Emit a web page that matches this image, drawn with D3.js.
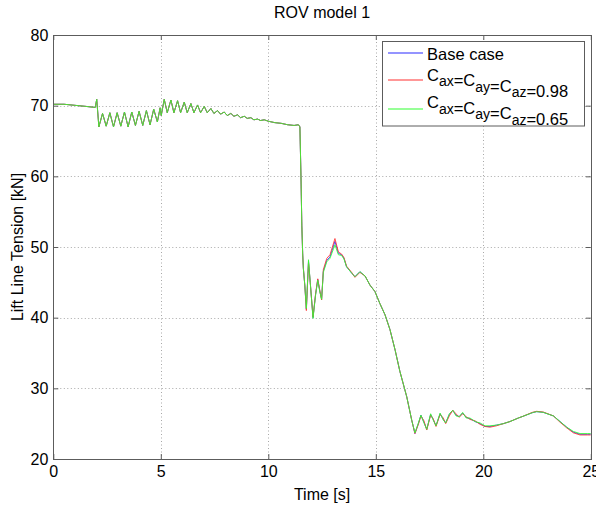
<!DOCTYPE html>
<html>
<head>
<meta charset="utf-8">
<script src="https://cdn.jsdelivr.net/npm/d3@7/dist/d3.min.js"></script>
<style>
  html, body { margin: 0; padding: 0; background: #fff; }
  svg text { font-family: "Liberation Sans", Arial, Helvetica, sans-serif; fill: #000; }
</style>
</head>
<body>
<svg id="chart" width="596" height="510"></svg>
<script>
// Lift line tension over time for ROV model 1, three added-mass cases.

const xTicks = [0, 5, 10, 15, 20, 25];
const yTicks = [20, 30, 40, 50, 60, 70, 80];

// Before the sudden drop the three cases give the same tension history.
const tEarly = [0, 0.5, 1.0, 1.5, 1.95, 2.02, 2.12,
  2.29, 2.46, 2.63, 2.80, 2.97, 3.14, 3.31, 3.48, 3.65, 3.82, 3.99, 4.16, 4.33, 4.50, 4.67, 4.84, 4.97,
  5.02, 5.16, 5.30, 5.47, 5.61, 5.78, 5.92, 6.09, 6.23, 6.40, 6.54, 6.71, 6.85, 7.02, 7.16, 7.33, 7.47,
  7.64, 7.78, 7.95, 8.09, 8.26, 8.40, 8.57, 8.71, 8.88, 9.02, 9.19, 9.33, 9.50, 9.64, 9.81,
  10.0, 10.3, 10.6, 10.9, 11.2, 11.4, 11.47];
const vEarly = [70.2, 70.2, 70.05, 69.9, 69.75, 70.9, 67.0,
  68.9, 67.1, 69.0, 67.0, 69.0, 67.1, 69.1, 67.0, 69.1, 67.2, 69.2, 67.2, 69.3, 67.3, 69.5, 67.7, 69.7,
  68.6, 70.9, 69.0, 70.8, 69.0, 70.7, 69.0, 70.5, 69.0, 70.3, 69.0, 70.1, 69.0, 69.9, 69.0, 69.6, 68.9,
  69.3, 68.8, 69.1, 68.6, 68.9, 68.5, 68.7, 68.3, 68.5, 68.2, 68.3, 68.0, 68.1, 67.9, 68.0,
  67.8, 67.6, 67.5, 67.3, 67.2, 67.3, 67.0];

// After the drop the cases separate slightly.
const tLate = [11.52, 11.56, 11.60, 11.63, 11.70, 11.77, 11.87, 11.95, 12.08, 12.20, 12.30, 12.40, 12.48,
  12.56, 12.72, 12.87, 13.10, 13.26, 13.41, 13.52, 13.64, 13.88, 14.03, 14.26, 14.50, 14.73, 14.96,
  15.19, 15.43, 15.66, 15.90, 16.12, 16.44, 16.67, 16.82, 16.98, 17.10, 17.24, 17.37, 17.55, 17.67,
  17.80, 17.99, 18.14, 18.25, 18.42, 18.58, 18.73, 18.88, 19.04, 19.20, 19.38, 19.62, 19.85, 20.08,
  20.31, 20.62, 20.93, 21.24, 21.63, 21.81, 22.28, 22.48, 22.79, 23.26, 23.57, 23.88, 24.19, 24.50,
  24.84, 25.0];
const baseLate = [60.0, 53.0, 49.0, 47.0, 44.5, 41.2, 48.0, 45.0, 40.0, 43.3, 45.4, 43.7, 42.6,
  46.6, 48.1, 48.6, 50.8, 49.1, 48.9, 48.4, 47.2, 46.3, 45.8, 46.5, 45.9, 44.6, 43.7,
  42.0, 40.4, 38.3, 35.4, 32.4, 28.8, 25.5, 23.6, 25.0, 26.2, 25.2, 24.2, 26.3, 25.6,
  24.7, 26.4, 25.6, 25.1, 26.3, 26.9, 26.2, 26.0, 26.5, 25.9, 25.7, 25.3, 25.0, 24.6,
  24.6, 24.8, 25.0, 25.3, 25.8, 26.0, 26.55, 26.7, 26.6, 26.1, 25.3, 24.5, 23.8, 23.5,
  23.5, 23.5];
const c098Late = [60.0, 53.0, 49.0, 47.0, 44.5, 41.0, 47.8, 45.0, 40.1, 43.4, 45.5, 43.8, 42.5,
  46.8, 48.4, 48.9, 51.2, 49.3, 49.0, 48.5, 47.3, 46.4, 45.7, 46.4, 45.9, 44.6, 43.7,
  42.0, 40.4, 38.3, 35.4, 32.4, 28.8, 25.5, 23.6, 24.9, 26.1, 25.4, 24.1, 26.2, 25.7,
  24.6, 26.3, 25.8, 25.0, 26.1, 26.9, 26.4, 25.9, 26.4, 26.0, 25.6, 25.4, 24.9, 24.6,
  24.5, 24.7, 25.0, 25.3, 25.8, 26.0, 26.6, 26.75, 26.65, 26.1, 25.2, 24.4, 23.7, 23.4,
  23.4, 23.4];
const c065Late = [60.0, 53.0, 49.0, 47.0, 44.5, 41.3, 48.2, 45.0, 39.9, 43.2, 45.3, 43.6, 42.6,
  46.4, 47.9, 48.4, 50.3, 48.9, 48.8, 48.3, 47.2, 46.3, 45.8, 46.5, 45.9, 44.6, 43.7,
  42.0, 40.4, 38.3, 35.4, 32.4, 28.8, 25.5, 23.7, 25.1, 26.2, 25.1, 24.2, 26.4, 25.5,
  24.7, 26.5, 25.5, 25.1, 26.4, 26.9, 26.1, 26.0, 26.6, 25.8, 25.8, 25.3, 25.1, 24.7,
  24.7, 24.8, 25.0, 25.3, 25.8, 26.0, 26.55, 26.7, 26.6, 26.1, 25.3, 24.5, 23.9, 23.6,
  23.6, 23.6];

const seriesNames = ["Base case", "0.98", "0.65"];
const seriesColors = ["#2a2aff", "#ff3030", "#30ff30"];
const lateValues = [baseLate, c098Late, c065Late];

const svg = d3.select("#chart");
const margin = { left: 53.3, right: 5.2, top: 35, bottom: 51 };
const W = 596, H = 510;
const x = d3.scaleLinear().domain([0, 25]).range([margin.left, W - margin.right]);
const y = d3.scaleLinear().domain([20, 80]).range([H - margin.bottom, margin.top]);

const axisColor = "#5c5c5c";

// Plot background
svg.append("rect")
  .attr("x", x(0)).attr("y", y(80))
  .attr("width", x(25) - x(0)).attr("height", y(20) - y(80))
  .attr("fill", "#fff");

// Dotted grid
const grid = svg.append("g").attr("stroke", "#a8a8a8").attr("stroke-width", 1)
  .attr("stroke-dasharray", "1,2.5");
grid.selectAll("line.gx").data(xTicks.slice(1, -1)).join("line")
  .attr("x1", d => Math.round(x(d)) + 0.5).attr("x2", d => Math.round(x(d)) + 0.5)
  .attr("y1", y(80)).attr("y2", y(20));
grid.selectAll("line.gy").data(yTicks.slice(1, -1)).join("line")
  .attr("y1", d => Math.round(y(d)) + 0.5).attr("y2", d => Math.round(y(d)) + 0.5)
  .attr("x1", x(0)).attr("x2", x(25));

// Data lines
svg.append("clipPath").attr("id", "plotclip").append("rect")
  .attr("x", x(0)).attr("y", y(80))
  .attr("width", x(25) - x(0)).attr("height", y(20) - y(80));

const line = d3.line().x(d => x(d[0])).y(d => y(d[1]));
const plotG = svg.append("g").attr("clip-path", "url(#plotclip)");
lateValues.forEach((vals, i) => {
  const pts = tEarly.map((t, j) => [t, vEarly[j]])
    .concat(tLate.map((t, j) => [t, vals[j]]));
  plotG.append("path")
    .datum(pts)
    .attr("fill", "none")
    .attr("stroke", seriesColors[i])
    .attr("stroke-width", 0.85)
    .attr("stroke-linejoin", "round")
    .attr("d", line);
});

// Axes with inward ticks on all four sides
const fontSize = 16;
function styleAxis(g) {
  g.select(".domain").remove();
  g.selectAll(".tick line").attr("stroke", axisColor);
  g.selectAll(".tick text").attr("font-size", fontSize)
    .attr("font-family", "Liberation Sans, Arial, sans-serif").attr("fill", "#000");
}
svg.append("g").attr("transform", `translate(0,${y(20)})`)
  .call(d3.axisBottom(x).tickValues(xTicks).tickSizeInner(-5).tickSizeOuter(0).tickPadding(7))
  .call(styleAxis);
svg.append("g").attr("transform", `translate(${x(0)},0)`)
  .call(d3.axisLeft(y).tickValues(yTicks).tickSizeInner(-5).tickSizeOuter(0).tickPadding(5))
  .call(styleAxis);
svg.append("g").attr("transform", `translate(0,${y(80)})`)
  .call(d3.axisTop(x).tickValues(xTicks).tickSizeInner(-5).tickSizeOuter(0).tickFormat(""))
  .call(styleAxis);
svg.append("g").attr("transform", `translate(${x(25)},0)`)
  .call(d3.axisRight(y).tickValues(yTicks).tickSizeInner(-5).tickSizeOuter(0).tickFormat(""))
  .call(styleAxis);

// Axes box
svg.append("rect")
  .attr("x", Math.round(x(0)) + 0.5).attr("y", Math.round(y(80)) + 0.5)
  .attr("width", Math.round(x(25)) - Math.round(x(0)))
  .attr("height", Math.round(y(20)) - Math.round(y(80)))
  .attr("fill", "none").attr("stroke", axisColor).attr("stroke-width", 1);

// Title and axis labels
svg.append("text").attr("x", (x(0) + x(25)) / 2).attr("y", 18)
  .attr("text-anchor", "middle").attr("font-size", 16).text("ROV model 1");
svg.append("text").attr("x", (x(0) + x(25)) / 2).attr("y", 500)
  .attr("text-anchor", "middle").attr("font-size", 16).text("Time [s]");
svg.append("text")
  .attr("transform", `translate(23,${(y(20) + y(80)) / 2}) rotate(-90)`)
  .attr("text-anchor", "middle").attr("font-size", 16).text("Lift Line Tension [kN]");

// Legend
const lg = svg.append("g");
const lx = 382.5, ly = 41.5, lw = 202, lh = 84.5;
lg.append("rect").attr("x", lx).attr("y", ly).attr("width", lw).attr("height", lh)
  .attr("fill", "#fff").attr("stroke", axisColor).attr("stroke-width", 1);
const rowY = [53, 80, 109];
seriesNames.forEach((name, i) => {
  lg.append("line")
    .attr("x1", 388).attr("x2", 423)
    .attr("y1", rowY[i]).attr("y2", rowY[i])
    .attr("stroke", seriesColors[i]).attr("stroke-width", 1.2);
  const t = lg.append("text").attr("x", 427).attr("font-size", 16.5);
  if (i === 0) {
    t.attr("y", rowY[i] + 6.5).text(name);
  } else {
    t.attr("y", i === 1 ? 80.5 : 108);
    const parts = [["C", "ax"], ["=C", "ay"], ["=C", "az"]];
    parts.forEach(([main, sub]) => {
      t.append("tspan").text(main);
      t.append("tspan").attr("font-size", 14).attr("dy", 5.5).text(sub);
      t.append("tspan").attr("dy", -5.5).text("");
    });
    t.append("tspan").text("=" + name);
  }
});
</script>
</body>
</html>
